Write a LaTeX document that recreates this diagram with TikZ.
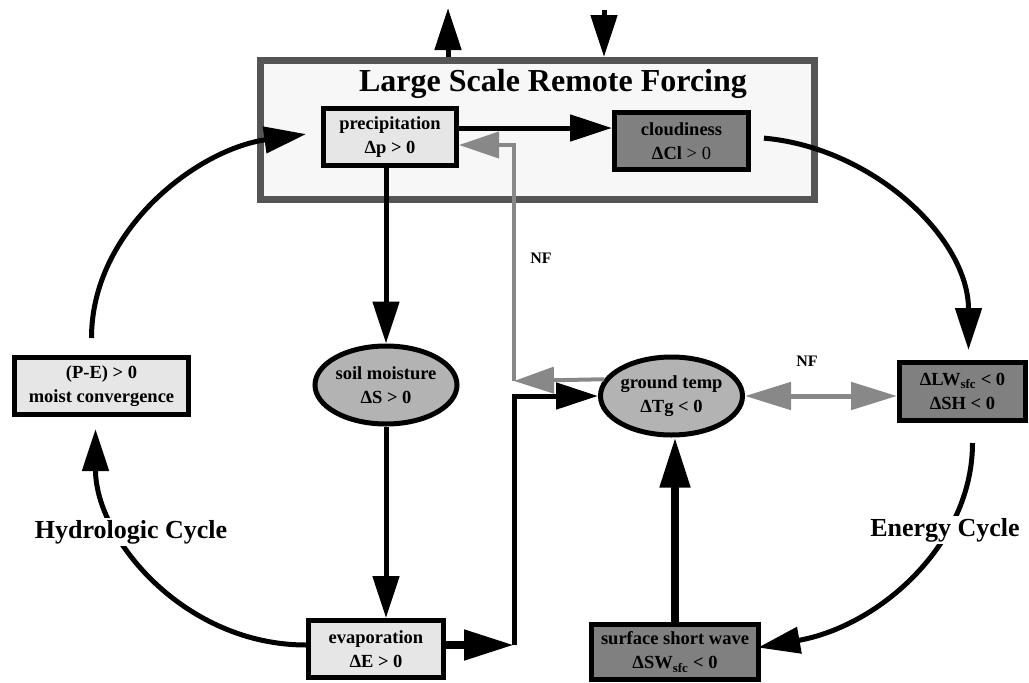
\documentclass[tikz,border=0pt]{standalone}
\usepackage{fontspec}
\setmainfont{Liberation Serif}
\usetikzlibrary{shapes.geometric, arrows.meta}
\definecolor{lightfill}{HTML}{E6E6E6}
\definecolor{darkfill}{HTML}{808080}
\definecolor{ovalfill}{HTML}{B3B3B3}
\definecolor{forcefill}{HTML}{F7F7F7}
\definecolor{forceline}{HTML}{555555}
\definecolor{nfgray}{HTML}{888888}
\newcommand{\boxfont}{\fontsize{18.5}{24}\selectfont\bfseries}
\newcommand{\titlefont}{\fontsize{32}{38}\selectfont\bfseries}
\newcommand{\cyclefont}{\fontsize{26}{31}\selectfont\bfseries}
\newcommand{\nffont}{\fontsize{16}{19}\selectfont\bfseries}
\tikzstyle{forcebox} = [rectangle, draw=forceline, line width=7pt, fill=forcefill]
\tikzstyle{lightbox} = [rectangle, draw=black, line width=5pt, fill=lightfill, align=center, font=\boxfont]
\tikzstyle{darkbox} = [rectangle, draw=black, line width=5pt, fill=darkfill, align=center, font=\boxfont]
\tikzstyle{oval} = [ellipse, draw=black, line width=5pt, fill=ovalfill, minimum width=142pt, minimum height=78pt]
\tikzstyle{boxtext} = [font=\boxfont, align=center]
\tikzstyle{cyclelabel} = [fill=white, inner sep=2pt, font=\cyclefont]
\tikzstyle{nftext} = [font=\nffont]
\tikzstyle{arrow} = [line width=5pt, -{Triangle[length=42pt,width=26pt]}]
\tikzstyle{bigarrow} = [line width=8pt, -{Triangle[length=50pt,width=29pt]}]
\tikzstyle{nfarrow} = [nfgray, line width=4pt, -{Triangle[length=40pt,width=26pt]}]
\tikzstyle{nfboth} = [nfgray, line width=5pt, {Triangle[length=46pt,width=27pt]}-{Triangle[length=46pt,width=27pt]}]
\begin{document}
\begin{tikzpicture}[x=1pt, y=-1pt]
    \useasboundingbox (0,0) rectangle (1029,683);
    \node (forcing) [forcebox, minimum width=554pt, minimum height=139pt] at (537.5,130) {};
    \node (title) [anchor=base, font=\titlefont] at (553,91) {Large Scale Remote Forcing};
    \node (precip) [lightbox, minimum width=133pt, minimum height=57pt] at (390,137) {precipitation\\Δp > 0};
    \node (cloud) [darkbox, minimum width=134pt, minimum height=57pt] at (681.5,141) {cloudiness\\ΔCl \textmd{> 0}};
    \node (soil) [oval, label={[boxtext]center:soil moisture\\ΔS > 0}] at (386,385) {};
    \node (ground) [oval, label={[boxtext]center:ground temp\\ΔTg < 0}] at (671.5,396) {};
    \node (pe) [lightbox, minimum width=174pt, minimum height=57pt] at (101.5,386) {(P-E) > 0\\moist convergence};
    \node (lw) [darkbox, minimum width=126pt, minimum height=58pt] at (962.5,391.5) {ΔLW\textsubscript{sfc} < 0\\ΔSH < 0};
    \node (evap) [lightbox, minimum width=135pt, minimum height=57pt] at (376,649) {evaporation\\ΔE > 0};
    \node (sw) [darkbox, minimum width=167pt, minimum height=55pt] at (675,652) {surface short wave\\ΔSW\textsubscript{sfc} < 0};

    \coordinate (escape) at (448,8);
    \coordinate (inflow) at (604,10);
    \coordinate (nfknee) at (514,381);
    \coordinate (evknee) at (514,645);

    \draw[arrow] (forcing.north -| escape) -- (escape);
    \draw[arrow] (inflow) -- (inflow |- forcing.north);
    \draw[arrow] ([yshift=9pt]precip.east) -- ([yshift=9pt]precip.east -| cloud.west);
    \draw[arrow] (precip.south -| soil.north) -- (soil.north);
    \draw[arrow] (soil.south) -- (soil.south |- evap.north);
    \draw[nfarrow] (ground.166) -- (nfknee);
    \draw[nfarrow] (nfknee) |- ([yshift=-8pt]precip.east);
    \draw[bigarrow] ([yshift=4pt]evap.east) -- (evknee);
    \draw[arrow] (evknee) |- (ground.west);
    \draw[bigarrow] (sw.north) -- (sw.north |- ground.south);
    \draw[nfboth] (ground.east) -- (ground.east -| lw.west);

    \draw[arrow, shorten <=17pt, shorten >=15pt] ([xshift=-10pt]pe.north) to[out=90, in=188] ([yshift=5pt]precip.west);
    \draw[arrow, shorten <=13pt, shorten >=10pt] ([yshift=4pt]cloud.east) to[out=-5, in=90] ([xshift=6pt]lw.north);
    \draw[arrow, shorten >=12pt] ([yshift=4pt]evap.west) to[out=180, in=-90] ([xshift=-6pt]pe.south);
    \draw[arrow, shorten <=20pt, shorten >=-3pt] ([xshift=10pt]lw.south) to[out=-90, in=10] ([yshift=5pt]sw.east);

    \node (hydro) [cyclelabel] at (131,532) {Hydrologic Cycle};
    \node (energy) [cyclelabel] at (945,530) {Energy Cycle};
    \node (nfup) [nftext] at (541,258) {NF};
    \node (nfside) [nftext] at (807,361) {NF};
\end{tikzpicture}
\end{document}
